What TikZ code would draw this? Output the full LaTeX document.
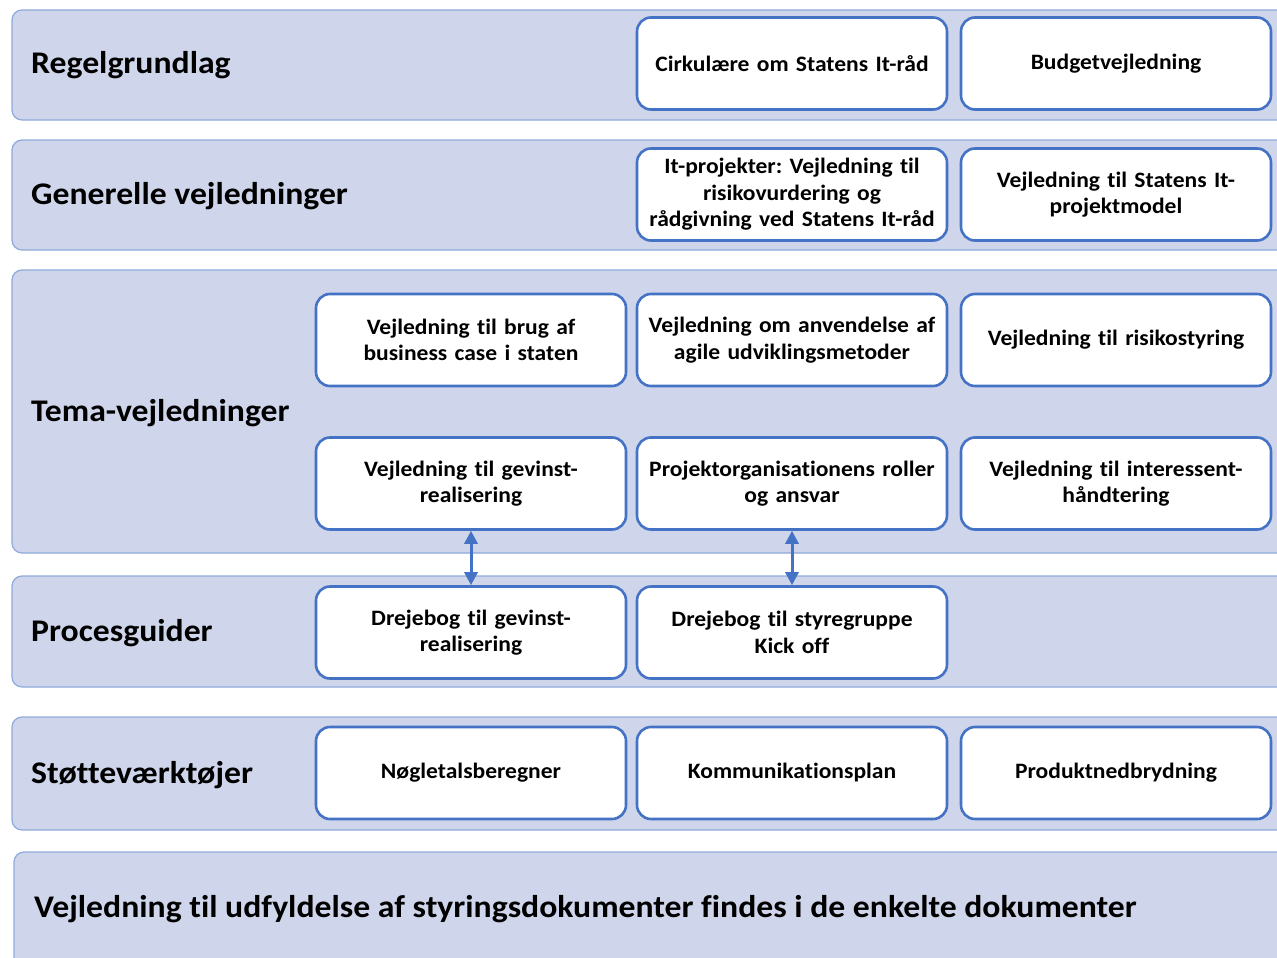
\documentclass[tikz,border=0pt]{standalone}
\usepackage{fontspec}
\setmainfont{Carlito}[FakeStretch=1.07, Ligatures=NoCommon]
\usetikzlibrary{arrows.meta}
\definecolor{bandfill}{HTML}{CFD5EA}
\definecolor{bandline}{HTML}{8FAADC}
\definecolor{boxline}{HTML}{4472C4}
\frenchspacing
\tikzset{
  band/.style={draw=bandline, line width=1.2pt, fill=bandfill, rounded corners=10pt},
  bandlabel/.style={anchor=base west, inner sep=0pt, font=\fontsize{31.5}{36}\selectfont\bfseries},
  box/.style={draw=boxline, line width=2.6pt, fill=white, rounded corners=14pt,
    minimum width=310pt, minimum height=92pt, align=center, inner sep=2pt,
    text width=304pt, font=\fontsize{22}{26.5}\selectfont\bfseries\frenchspacing},
  link/.style={draw=boxline, line width=3pt, {Triangle[length=13pt,width=13pt]}-{Triangle[length=13pt,width=13pt]}}
}
\begin{document}
\begin{tikzpicture}[x=1pt,y=-1pt]
\useasboundingbox (0,0) rectangle (1277,958);
\clip (0,0) rectangle (1277,958);
% bands
\draw[band] (12,10) rectangle (1300,120);
\draw[band] (12,140) rectangle (1300,250);
\draw[band] (12,270) rectangle (1300,553);
\draw[band] (12,576) rectangle (1300,687);
\draw[band] (12,717) rectangle (1300,830);
\draw[band] (14,852) rectangle (1300,1000);
% labels
\node[bandlabel] (l1) at (31,74) {Regelgrundlag};
\node[bandlabel] (l2) at (31,204) {Generelle vejledninger};
\node[bandlabel] (l3) at (31,421) {Tema-vejledninger};
\node[bandlabel] (l4) at (31,641) {Procesguider};
\node[bandlabel] (l5) at (31,783) {Støtteværktøjer};
\node[bandlabel] (l6) at (34,917) {Vejledning til udfyldelse af styringsdokumenter findes i de enkelte dokumenter};
% row 1
\node[box] (c1) at (792,63.5) {Cirkulære om Statens It-råd};
\node[box] (b1) at (1116,63.5) {Budgetvejledning};
% row 2
\node[box] (c2) at (792,194.5) {It-projekter: Vejledning til\\risikovurdering og\\rådgivning ved Statens It-råd};
\node[box] (b2) at (1116,194.5) {Vejledning til Statens It-\\projektmodel};
% tema
\node[box] (t1) at (471,340) {Vejledning til brug af\\business case i staten};
\node[box] (t2) at (792,340) {Vejledning om anvendelse af\\agile udviklingsmetoder};
\node[box] (t3) at (1116,340) {Vejledning til risikostyring};
\node[box] (t4) at (471,483.5) {Vejledning til gevinst-\\realisering};
\node[box] (t5) at (792,483.5) {Projektorganisationens roller\\og ansvar};
\node[box] (t6) at (1116,483.5) {Vejledning til interessent-\\håndtering};
% proces
\node[box] (p1) at (471,632.5) {Drejebog til gevinst-\\realisering};
\node[box] (p2) at (792,632.5) {Drejebog til styregruppe\\Kick off};
% stotte
\node[box] (s1) at (471,773) {Nøgletalsberegner};
\node[box] (s2) at (792,773) {Kommunikationsplan};
\node[box] (s3) at (1116,773) {Produktnedbrydning};
% links
\draw[link] (t4.south) -- (p1.north);
\draw[link] (t5.south) -- (p2.north);
\end{tikzpicture}
\end{document}
